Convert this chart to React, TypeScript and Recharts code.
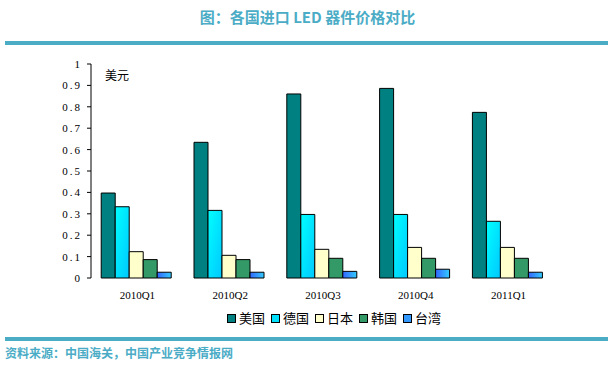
import { Bar, BarChart, XAxis, YAxis } from "recharts";

const quarters = ["2010Q1", "2010Q2", "2010Q3", "2010Q4", "2011Q1"];
const usa = [0.397, 0.634, 0.86, 0.886, 0.774];
const germany = [0.333, 0.316, 0.297, 0.297, 0.265];
const japan = [0.123, 0.106, 0.134, 0.143, 0.143];
const korea = [0.086, 0.086, 0.092, 0.092, 0.092];
const taiwan = [0.027, 0.027, 0.031, 0.041, 0.027];
const yTicks = [0, 0.1, 0.2, 0.3, 0.4, 0.5, 0.6, 0.7, 0.8, 0.9, 1];
const boundaryTicks = [1, 2, 3, 4, 5];

const series = [
  { key: "usa", name: "美国", fill: "#008080", swatch: "#008080" },
  { key: "germany", name: "德国", fill: "url(#gradDe)", swatch: "#00e0ff" },
  { key: "japan", name: "日本", fill: "#ffffcc", swatch: "#ffffcc" },
  { key: "korea", name: "韩国", fill: "#339966", swatch: "#339966" },
  { key: "taiwan", name: "台湾", fill: "url(#gradTw)", swatch: "#3399ff" },
];

const data = quarters.map((q, i) => ({
  q,
  usa: usa[i],
  germany: germany[i],
  japan: japan[i],
  korea: korea[i],
  taiwan: taiwan[i],
}));

const accent = "#4bacc6";
const cjk = '"Noto Sans CJK SC", sans-serif';

export default function App() {
  return (
    <div
      style={{
        position: "absolute",
        left: 0,
        top: 0,
        width: 615,
        height: 372,
        background: "#fff",
        fontFamily: cjk,
      }}
    >
      <div
        style={{
          position: "absolute",
          top: 7,
          left: 0,
          width: 615,
          textAlign: "center",
          fontSize: 15,
          fontWeight: "bold",
          color: accent,
          lineHeight: "20px",
        }}
      >
        图：各国进口 LED 器件价格对比
      </div>
      <div style={{ position: "absolute", top: 41, left: 5, width: 603, height: 4, background: accent }} />

      <div style={{ position: "absolute", top: 0, left: 0 }}>
        <BarChart
          width={615}
          height={300}
          data={data}
          margin={{ top: 64, right: 60, left: 0, bottom: 0 }}
          barCategoryGap="11%"
          barGap={0}
        >
          <defs>
            <linearGradient id="gradDe" x1="0" y1="0" x2="1" y2="1">
              <stop offset="0%" stopColor="#00ffff" />
              <stop offset="100%" stopColor="#00c8ff" />
            </linearGradient>
            <linearGradient id="gradTw" x1="0" y1="0" x2="1" y2="0">
              <stop offset="0%" stopColor="#3366ff" />
              <stop offset="100%" stopColor="#33ccff" />
            </linearGradient>
          </defs>
          <YAxis
            domain={[0, 1]}
            ticks={yTicks}
            width={91}
            tickSize={4}
            tickMargin={5}
            stroke="#000"
            interval={0}
            tick={{ fill: "#000", fontSize: 11, fontFamily: "Liberation Serif", letterSpacing: 2 }}
          />
          <XAxis
            xAxisId="bound"
            type="number"
            domain={[0, 5]}
            allowDataOverflow
            ticks={boundaryTicks}
            height={0}
            tick={false}
            tickSize={4}
            mirror
            stroke="#000"
          />
          <XAxis
            xAxisId="cat"
            dataKey="q"
            height={22}
            axisLine={false}
            tickLine={false}
            tickSize={0}
            tickMargin={13}
            interval={0}
            tick={{ fill: "#000", fontSize: 11, fontFamily: "Liberation Serif" }}
          />
          {series.map((s) => (
            <Bar
              key={s.key}
              xAxisId="cat"
              dataKey={s.key}
              fill={s.fill}
              stroke="#000"
              strokeWidth={1}
              isAnimationActive={false}
            />
          ))}
        </BarChart>
      </div>

      <div style={{ position: "absolute", top: 66, left: 105, fontSize: 12, color: "#000" }}>美元</div>

      <div
        style={{
          position: "absolute",
          top: 310,
          left: 227,
          display: "flex",
          alignItems: "center",
          fontSize: 13,
          color: "#000",
          lineHeight: "16px",
        }}
      >
        {series.map((s) => (
          <div key={s.key} style={{ display: "flex", alignItems: "center", marginRight: 6 }}>
            <span
              style={{
                display: "inline-block",
                width: 7,
                height: 7,
                border: "1px solid #000",
                background: s.swatch,
                marginRight: 3,
              }}
            />
            <span>{s.name}</span>
          </div>
        ))}
      </div>

      <div style={{ position: "absolute", top: 337, left: 5, width: 603, height: 4, background: accent }} />
      <div
        style={{
          position: "absolute",
          top: 345,
          left: 5,
          fontSize: 12,
          fontWeight: "bold",
          color: accent,
          lineHeight: "16px",
        }}
      >
        资料来源：中国海关，中国产业竞争情报网
      </div>
    </div>
  );
}
